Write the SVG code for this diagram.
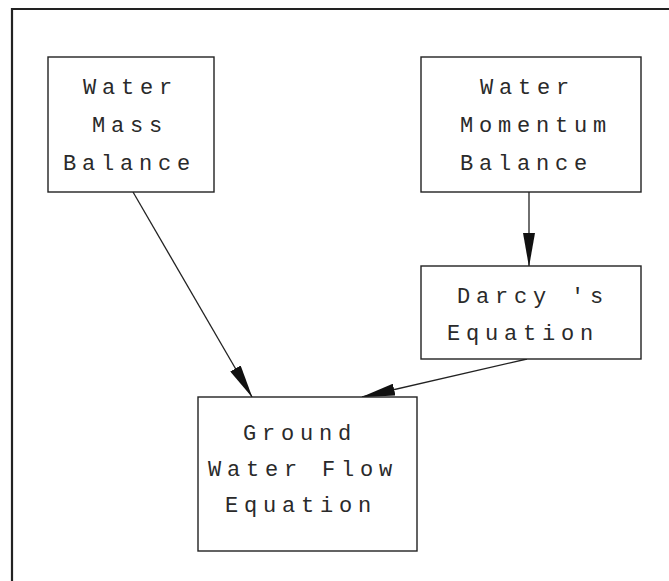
<svg xmlns="http://www.w3.org/2000/svg" width="669" height="581" viewBox="0 0 669 581">
  <style>
    .box { fill: #fff; stroke: #222; stroke-width: 1.4; }
    .lbl { font-family: "Liberation Mono", "DejaVu Sans Mono", monospace; font-size: 22px; letter-spacing: 5.8px; fill: #2a2a2a; }
    .edge { stroke: #222; stroke-width: 1.3; fill: none; marker-end: url(#arr); }
  </style>
  <defs>
    <marker id="arr" markerUnits="userSpaceOnUse" markerWidth="34" markerHeight="12" refX="33" refY="6" orient="auto">
      <path d="M0,0 L34,6 L0,12 Z" fill="#111"/>
    </marker>
  </defs>
  <rect width="669" height="581" fill="#fff"/>
  <g id="frame">
    <path d="M12,581 L12,9 L669,9" fill="none" stroke="#222" stroke-width="2.2"/>
  </g>
  <g id="edges">
    <line class="edge" x1="133" y1="192" x2="252" y2="397"/>
    <line class="edge" x1="529" y1="192" x2="529" y2="266"/>
    <line class="edge" x1="527" y1="359" x2="362" y2="397"/>
  </g>
  <g id="mass">
    <rect class="box" x="48" y="57" width="166" height="135"/>
    <text class="lbl" x="83" y="94">Water</text>
    <text class="lbl" x="92" y="132">Mass</text>
    <text class="lbl" x="63" y="170">Balance</text>
  </g>
  <g id="momentum">
    <rect class="box" x="421" y="57" width="220" height="135"/>
    <text class="lbl" x="480" y="94">Water</text>
    <text class="lbl" x="460" y="132">Momentum</text>
    <text class="lbl" x="460" y="170">Balance</text>
  </g>
  <g id="darcy">
    <rect class="box" x="421" y="266" width="220" height="93"/>
    <text class="lbl" x="457" y="303">Darcy 's</text>
    <text class="lbl" x="447" y="340">Equation</text>
  </g>
  <g id="ground">
    <rect class="box" x="198" y="397" width="219" height="154"/>
    <text class="lbl" x="243" y="440">Ground</text>
    <text class="lbl" x="208" y="476">Water Flow</text>
    <text class="lbl" x="225" y="512">Equation</text>
  </g>
</svg>
